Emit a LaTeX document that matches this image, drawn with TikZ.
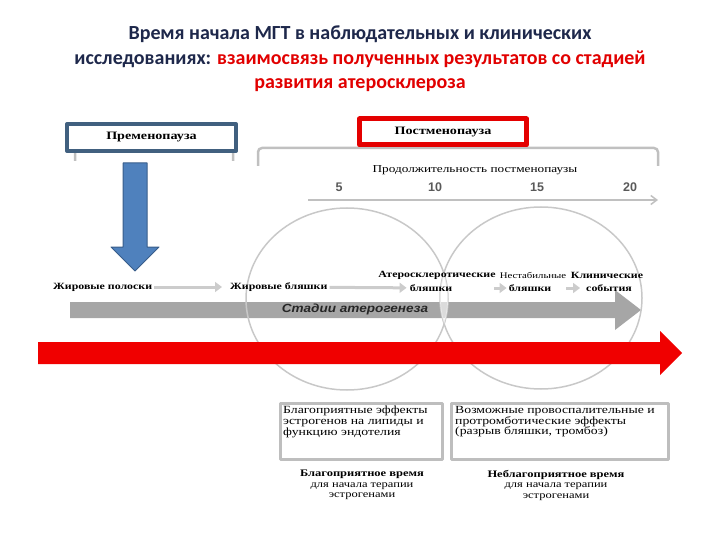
\documentclass[tikz,border=0pt]{standalone}
\usepackage{fontspec}
\setmainfont{Liberation Serif}
\setsansfont{Liberation Sans}
\newfontfamily\titlefont{Carlito}
\newfontfamily\dgmfont[FakeStretch=1.25]{Liberation Serif}
\newfontfamily\bandfont[FakeStretch=1.15]{Liberation Sans}
\usetikzlibrary{arrows.meta}

\definecolor{titleblue}{RGB}{30,40,75}
\definecolor{titlered}{RGB}{225,0,0}
\definecolor{preblue}{RGB}{65,96,127}
\definecolor{arrowblue}{RGB}{79,129,189}
\definecolor{arrowedge}{RGB}{56,93,138}
\definecolor{postred}{RGB}{228,0,0}
\definecolor{bracketgray}{RGB}{192,192,192}
\definecolor{stagegray}{RGB}{204,204,204}
\definecolor{bandgray}{RGB}{166,166,166}
\definecolor{circlegray}{RGB}{200,200,200}
\definecolor{boxgray}{RGB}{190,190,190}
\definecolor{bigred}{RGB}{240,0,0}

\tikzset{
    periodbox/.style={
        draw,
        line width=4pt,
        fill=white,
        inner sep=0pt,
        font=\dgmfont\bfseries\fontsize{11.3}{12}\selectfont
    },
    bracket/.style={
        draw=bracketgray,
        line width=2.5pt,
        rounded corners=4pt
    },
    stagelabel/.style={
        inner sep=0pt,
        font=\dgmfont\bfseries\fontsize{9.5}{10.5}\selectfont
    },
    stagearrow/.style={
        draw=stagegray,
        line width=3pt,
        -{Triangle[length=7pt,width=10pt]}
    },
    yearlabel/.style={
        inner sep=0pt,
        text=black!65,
        font=\sffamily\bfseries\fontsize{12.5}{13}\selectfont
    },
    effectbox/.style={
        draw=boxgray,
        line width=3pt,
        fill=white
    },
    effecttext/.style={
        anchor=north west,
        inner sep=0pt,
        align=left,
        font=\dgmfont\fontsize{11}{10.6}\selectfont
    },
    timetext/.style={
        inner sep=0pt,
        align=center,
        font=\dgmfont\fontsize{10}{10.5}\selectfont
    },
    oval/.style={
        draw=circlegray,
        line width=1.5pt
    }
}

\begin{document}
\begin{tikzpicture}[
    x=1pt,
    y=-1pt,
    line join=round
]

\useasboundingbox (0,0) rectangle (720,540);

% Title
\node[
    align=center,
    font=\titlefont\bfseries\fontsize{20}{24.5}\selectfont,
    text=titleblue
] (title) at (360,59)
    {Время начала МГТ в наблюдательных и клинических\\
     исследованиях: \textcolor{titlered}{взаимосвязь полученных результатов со стадией}\\
     \textcolor{titlered}{развития атеросклероза}};

% Premenopause
\draw[bracket] (75,161) -- (75,145) -- (233,145) -- (233,161);

\node[
    periodbox,
    draw=preblue,
    minimum width=169pt,
    minimum height=27pt
] (pre) at (151.5,137.5)
    {Пременопауза};

% Blue arrow
\draw[
    fill=arrowblue,
    draw=arrowedge,
    line width=1pt
]
    (123,163) -- (147,163) -- (147,247) -- (159,247)
    -- (135,271) -- (111,247) -- (123,247) -- cycle;

% Postmenopause
\draw[bracket] (258,166) -- (258,148) -- (658,148) -- (658,166);

\node[
    periodbox,
    draw=postred,
    line width=5pt,
    minimum width=167pt,
    minimum height=26pt
] (post) at (443,132)
    {Постменопауза};

\node[
    inner sep=0pt,
    font=\dgmfont\fontsize{10.6}{12}\selectfont
] (duration) at (475,170)
    {Продолжительность постменопаузы};

% Years
\node[yearlabel] (y5) at (339,187) {5};
\node[yearlabel] (y10) at (435,187) {10};
\node[yearlabel] (y15) at (537,187) {15};
\node[yearlabel] (y20) at (630,187) {20};

\coordinate (axisstart) at (308,200);
\coordinate (axisend) at (658,200);
\draw[
    bracketgray,
    line width=1.5pt,
    -{Straight Barb[length=6pt,width=9pt]}
] (axisstart) -- (axisend);

% Stages band
\fill[bandgray]
    (70,302) -- (615,302) -- (615,290) -- (641,310)
    -- (615,330) -- (615,318) -- (70,318) -- cycle;

\node[
    inner sep=0pt,
    text=black!85,
    font=\bandfont\bfseries\itshape\fontsize{11.8}{12}\selectfont
] (stages) at (355,309)
    {Стадии атерогенеза};

% Circles
\draw[oval] (347,299) ellipse [x radius=101,y radius=91];
\draw[oval] (541,298) ellipse [x radius=101,y radius=91];

\begin{scope}
    \clip (347,299) ellipse [x radius=101,y radius=91];
    \clip (541,298) ellipse [x radius=101,y radius=91];
    \fill[white,opacity=.6] (420,268) rectangle (470,333);
\end{scope}

% Stage labels
\node[stagelabel,anchor=west] (fs) at (53,287) {Жировые полоски};
\node[stagelabel,anchor=west] (fp) at (230,287) {Жировые бляшки};
\node[stagelabel] (ap1) at (437,275) {Атеросклеротические};
\node[stagelabel] (ap2) at (431,288) {бляшки};
\node[
    stagelabel,
    font=\dgmfont\fontsize{8.6}{10.5}\selectfont
] (us1) at (533,275) {Нестабильные};
\node[stagelabel] (us2) at (530,288) {бляшки};
\node[stagelabel] (ce1) at (607,275) {Клинические};
\node[stagelabel] (ce2) at (609,288) {события};

\draw[stagearrow,shorten <=2pt,shorten >=8pt] (fs) -- (fp);
\draw[stagearrow,shorten <=2pt,shorten >=3pt] (fp) -- (ap2);
\draw[stagearrow,shorten <=42pt,shorten >=2pt] (ap2) -- (us2);
\draw[stagearrow,shorten <=15pt,shorten >=6pt] (us2) -- (ce2);

% Red arrow
\fill[bigred]
    (38,342) -- (660,342) -- (660,331) -- (682,353)
    -- (660,375) -- (660,364) -- (38,364) -- cycle;

% Effect boxes
\draw[effectbox] (280,403) rectangle (442,459);
\node[effecttext] (good) at (283,406)
    {Благоприятные эффекты\\
     эстрогенов на липиды и\\
     функцию эндотелия};

\draw[effectbox] (451,403) rectangle (668,459);
\node[effecttext] (bad) at (455,406)
    {Возможные провоспалительные и\\
     протромботические эффекты\\
     (разрыв бляшки, тромбоз)};

% Timing
\node[timetext] (goodtime) at (362,485)
    {\textbf{Благоприятное время}\\
     для начала терапии\\
     эстрогенами};

\node[timetext] (badtime) at (556,485)
    {\textbf{Неблагоприятное время}\\
     для начала терапии\\
     эстрогенами};

\end{tikzpicture}
\end{document}
